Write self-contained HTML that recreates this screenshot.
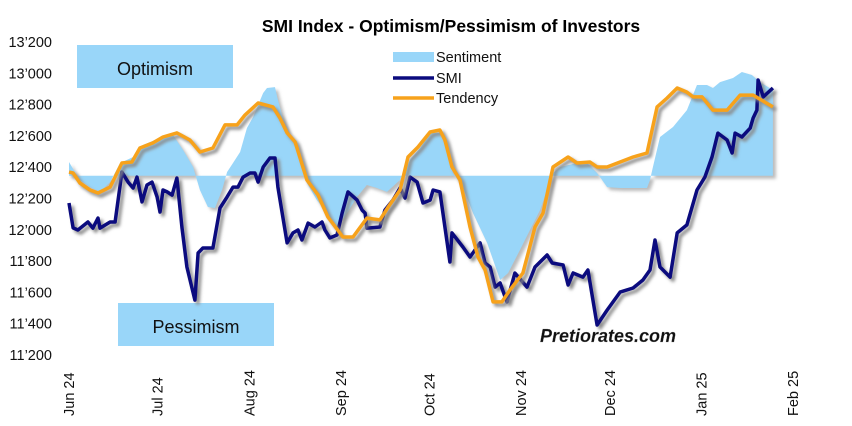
<!DOCTYPE html>
<html><head><meta charset="utf-8"><style>
body{margin:0;background:#fff;}
svg{display:block;font-family:"Liberation Sans",Arial,sans-serif;}
</style></head><body>
<svg id="chart" width="852" height="426" viewBox="0 0 852 426">
<defs><filter id="sh" x="-5%" y="-5%" width="110%" height="120%"><feGaussianBlur stdDeviation="1.5"/></filter></defs>
<text x="451" y="32" text-anchor="middle" font-size="17.5" font-weight="bold" fill="#000">SMI Index - Optimism/Pessimism of Investors</text>
<rect x="77" y="45" width="156" height="43" fill="#99d6f9"/>
<text x="155" y="75" text-anchor="middle" font-size="18" fill="#111">Optimism</text>
<rect x="118" y="303" width="156" height="43" fill="#99d6f9"/>
<text x="196" y="333" text-anchor="middle" font-size="18" fill="#111">Pessimism</text>
<g id="yaxis"></g>
<g id="xaxis"></g>
<g id="plot"></g>
<g font-size="14.5" fill="#111">
<g><rect x="393" y="52" width="41" height="10" fill="#99d6f9"/><text x="436" y="62">Sentiment</text></g>
<g><line x1="393" y1="78" x2="434" y2="78" stroke="#0b0b7e" stroke-width="3.5"/><text x="436" y="83">SMI</text></g>
<g><line x1="393" y1="98" x2="434" y2="98" stroke="#f7a21b" stroke-width="3.5"/><text x="436" y="103">Tendency</text></g>
</g>
<text x="540" y="342" font-size="18" font-weight="bold" font-style="italic" fill="#111" stroke="#888" stroke-width="0.2">Pretiorates.com</text>
</svg>
<script>
const yTicks=[13200,13000,12800,12600,12400,12200,12000,11800,11600,11400,11200];
const xTickLabels=["Jun 24","Jul 24","Aug 24","Sep 24","Oct 24","Nov 24","Dec 24","Jan 25","Feb 25"];
const xTickDays=[0,30,61,92,122,153,183,214,245];
const sentimentBase=12345;
const smiDays=[0,1.4,3,6.4,8.1,9.8,10.5,13.9,15.6,17.9,20,21.7,23,24.7,26.4,28.1,29.8,30.8,31.8,33.2,34.9,36.5,38.2,39.9,42.6,43.7,45.3,48.7,51.1,53.5,55.5,57.2,58.9,61.3,62.9,64,65.7,68,69.7,70.7,73.8,75.8,77.5,78.8,80.9,83.2,85.6,86.6,88.3,90.7,92.4,94.4,97.5,99.2,100.2,100.8,105.2,106.9,109.6,112,113.7,115.4,117.8,119.8,122.2,123.2,125.5,128.9,129.6,133.3,135.7,137.4,139.1,140.8,142.5,144.2,145.9,148.2,150.9,155,157.7,161.8,163.5,167.2,168.9,170.6,173.9,175.6,178.7,182.1,186.5,190.9,194.2,196.6,198.3,200,203.4,205.8,209.1,212.5,215.2,217.6,219.6,222.7,224.4,225.4,227.7,230.5,231.5,232.8,233.2,234.9,238.2];
const smiValues=[12171,12012,11999,12050,12011,12075,12011,12050,12050,12369,12305,12267,12337,12178,12286,12305,12210,12114,12254,12242,12222,12331,12018,11762,11551,11852,11884,11884,12139,12210,12273,12273,12337,12363,12363,12305,12401,12459,12459,12273,11916,11980,11999,11935,12043,12018,12050,11999,11948,11967,12107,12242,12190,12126,12107,12011,12018,12126,12190,12267,12203,12337,12305,12171,12190,12254,12242,11794,11980,11890,11826,11871,11916,11788,11762,11634,11660,11539,11724,11634,11762,11839,11788,11775,11647,11724,11698,11743,11392,11487,11602,11628,11679,11743,11935,11762,11698,11980,12031,12254,12337,12465,12618,12574,12491,12618,12593,12650,12714,12765,12957,12849,12906];
const tendDays=[0,1.4,3.7,7.1,9.8,13.9,17.9,21.3,24,28.4,31.8,36.5,40.9,44.3,48.7,52.8,56.9,59.6,64,69,71.4,73.8,76.5,80.5,84.3,87.6,92.7,96.1,100.8,105.2,108,112,114.7,118.1,122.2,125.5,127.2,129.6,132.3,135.7,138.4,140.8,143.5,146.5,149.2,153.6,157.7,160.4,163.8,168.9,171.9,176.3,178.7,182.1,186.5,190.9,195.6,199,202.4,205.8,209.1,211.2,214.2,217.9,222.7,227.1,231.5,238.2];
const tendValues=[12369,12363,12299,12254,12235,12273,12427,12433,12523,12555,12593,12619,12574,12497,12523,12670,12670,12734,12810,12785,12714,12619,12561,12318,12222,12082,11954,11954,12075,12063,12146,12254,12465,12529,12625,12638,12574,12401,12318,12018,11826,11743,11539,11539,11615,11724,12018,12107,12401,12465,12427,12433,12401,12401,12433,12465,12491,12785,12842,12906,12880,12849,12849,12765,12765,12861,12861,12785];
const sentDays=[0,1,3.7,7.1,10.5,13.9,17.3,21.7,25,30.8,35.2,38.6,42,44.3,47,49.4,51.8,53.5,55.5,57.9,60.2,62.3,65.7,67,69.7,70.7,73.8,77.2,80.5,83.9,87.3,90.7,94.1,97.5,100.8,104.2,107.6,112,115.4,118.8,122.2,125.5,127.9,129.9,133.3,136.7,141.5,145.9,148.6,152.6,156,159.4,162.1,163.8,166.2,171.9,175.3,178.7,182.1,186.5,195.6,196.6,197.6,200,204.4,209.1,212.5,215.9,217.9,220.3,224.7,227.7,231.1,233.8,238.2];
const sentValues=[12433,12401,12318,12273,12242,12305,12427,12465,12542,12587,12606,12510,12401,12254,12146,12139,12254,12369,12427,12497,12650,12721,12874,12906,12912,12829,12619,12529,12299,12190,12107,12018,12107,12210,12286,12267,12242,12318,12446,12523,12619,12619,12510,12363,12273,12107,11916,11679,11724,11871,11999,12126,12273,12363,12401,12427,12427,12363,12273,12267,12267,12318,12401,12593,12657,12765,12925,12925,12906,12944,12970,13008,12989,12944,12893];

const X=d=>69+d*(793-69)/245;
const Y=v=>42+(13200-v)*(313/2000);
const NS="http://www.w3.org/2000/svg";
function mk(tag,attrs,parent){const e=document.createElementNS(NS,tag);for(const k in attrs)e.setAttribute(k,attrs[k]);parent.appendChild(e);return e;}
const ya=document.getElementById('yaxis'),xa=document.getElementById('xaxis'),plot=document.getElementById('plot');
yTicks.forEach(v=>{const t=mk('text',{x:52,y:Y(v)+5,'text-anchor':'end','font-size':'14.5',fill:'#111'},ya);


t.textContent=String(v).replace(/(\d\d)(\d\d\d)$/,"$1’$2");});
xTickLabels.forEach((l,i)=>{const x=X(xTickDays[i]);const t=mk('text',{x:0,y:0,transform:`translate(${x+5},416) rotate(-90)`,'font-size':'14.5',fill:'#111'},xa);


t.textContent=l;});
// sentiment area
let d=`M${X(sentDays[0])},${Y(sentimentBase)}`;
sentDays.forEach((dd,i)=>d+=`L${X(dd)},${Y(sentValues[i])}`);
d+=`L${X(sentDays[sentDays.length-1])},${Y(sentimentBase)}Z`;
const ash=mk('path',{d,fill:'#bbb',transform:'translate(3,3)',filter:'url(#sh)'},plot);


const area=mk('path',{d,fill:'#99d6f9'},plot);


function line(days,vals,color,name){
 const p=days.map((dd,i)=>`${i?'L':'M'}${X(dd).toFixed(1)},${Y(vals[i]).toFixed(1)}`).join('');
 const s=mk('path',{d:p,fill:'none',stroke:'#888','stroke-width':3.5,transform:'translate(3,3)',filter:'url(#sh)','stroke-linejoin':'round'},plot);
 
 
 const l=mk('path',{d:p,fill:'none',stroke:color,'stroke-width':3.5,'stroke-linejoin':'round'},plot);
 
 
}
line(smiDays,smiValues,'#0b0b7e','smi');
line(tendDays,tendValues,'#f7a21b','tendency');
</script>
</body></html>
